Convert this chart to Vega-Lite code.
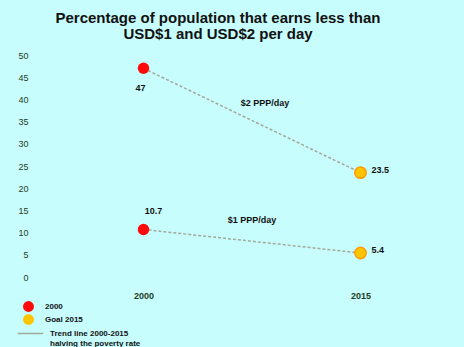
{
  "$schema": "https://vega.github.io/schema/vega-lite/v6.json",
  "autosize": "none",
  "width": 434,
  "height": 222,
  "padding": {"left": 35, "top": 55, "right": 0, "bottom": 70},
  "background": "#c8fdfd",
  "config": {
    "view": {"stroke": null},
    "font": "Liberation Sans"
  },
  "title": {
    "text": ["Percentage of population that earns less than", "USD$1 and USD$2 per day"],
    "fontSize": 15,
    "fontWeight": "bold",
    "color": "#111111",
    "anchor": "middle",
    "dx": -34,
    "offset": 9,
    "lineHeight": 16
  },
  "datasets": {
    "poverty": [
      {"line": "$2 PPP/day", "year": 2000, "value": 47, "status": "2000"},
      {"line": "$2 PPP/day", "year": 2015, "value": 23.5, "status": "Goal 2015"},
      {"line": "$1 PPP/day", "year": 2000, "value": 10.7, "status": "2000"},
      {"line": "$1 PPP/day", "year": 2015, "value": 5.4, "status": "Goal 2015"}
    ],
    "lineNames": [
      {"line": "$2 PPP/day", "year": 2008.4, "value": 39.2},
      {"line": "$1 PPP/day", "year": 2007.5, "value": 12.8}
    ]
  },
  "encoding": {
    "x": {
      "field": "year", "type": "quantitative",
      "scale": {"domain": [1992.5, 2022.5], "zero": false, "nice": false},
      "axis": {
        "values": [2000, 2015], "format": "d", "title": null,
        "domain": false, "ticks": false, "grid": false,
        "labelPadding": 14, "labelFontSize": 9, "labelFontWeight": "bold", "labelColor": "#1d3d1d"
      }
    },
    "y": {
      "field": "value", "type": "quantitative",
      "scale": {"domain": [0, 50], "nice": false},
      "axis": {
        "values": [0, 5, 10, 15, 20, 25, 30, 35, 40, 45, 50],
        "title": null, "domain": false, "ticks": false, "grid": false,
        "labelPadding": 7, "labelFontSize": 9, "labelColor": "#1d3d1d"
      }
    }
  },
  "layer": [
    {
      "data": {"name": "poverty"},
      "mark": {"type": "line", "strokeWidth": 1.5, "strokeDash": [3, 2]},
      "encoding": {
        "detail": {"field": "line"},
        "stroke": {
          "field": "kind", "type": "nominal",
          "scale": {"range": ["#a3aa9a"]},
          "legend": {
            "orient": "none", "legendX": -18, "legendY": 265,
            "title": null, "symbolType": "stroke", "symbolSize": 650, "symbolStrokeWidth": 1.5,
            "labelOffset": 6,
            "labelFontSize": 8, "labelFontWeight": "bold", "labelColor": "#111111",
            "labelExpr": "['Trend line 2000-2015', 'halving the poverty rate']"
          }
        }
      },
      "transform": [{"calculate": "'Trend line'", "as": "kind"}]
    },
    {
      "data": {"name": "poverty"},
      "mark": {"type": "point", "filled": true, "size": 130, "strokeWidth": 1.5, "opacity": 1},
      "encoding": {
        "fill": {
          "field": "status", "type": "nominal",
          "scale": {"domain": ["2000", "Goal 2015"], "range": ["#ff0a0a", "#ffc400"]},
          "legend": {
            "orient": "none", "legendX": -12, "legendY": 246,
            "title": null, "symbolSize": 120, "symbolStrokeWidth": 0,
            "labelOffset": 11,
            "labelFontSize": 8, "labelFontWeight": "bold", "labelColor": "#111111",
            "rowPadding": 2
          }
        },
        "stroke": {"value": "#ff9a00"},
        "strokeOpacity": {"condition": {"test": "datum.status === '2000'", "value": 0}, "value": 1}
      }
    },
    {
      "data": {"name": "poverty"},
      "transform": [{"filter": "datum.year === 2000 && datum.value > 20"}],
      "mark": {"type": "text", "fontSize": 9, "fontWeight": "bold", "color": "#111111", "dy": 20, "dx": -3},
      "encoding": {"text": {"field": "value", "type": "quantitative"}}
    },
    {
      "data": {"name": "poverty"},
      "transform": [{"filter": "datum.year === 2000 && datum.value < 20"}],
      "mark": {"type": "text", "fontSize": 9, "fontWeight": "bold", "color": "#111111", "dy": -18, "dx": 10},
      "encoding": {"text": {"field": "value", "type": "quantitative", "format": ".1f"}}
    },
    {
      "data": {"name": "poverty"},
      "transform": [{"filter": "datum.year === 2015"}],
      "mark": {"type": "text", "fontSize": 9, "fontWeight": "bold", "color": "#111111", "align": "left", "dx": 11, "dy": -3},
      "encoding": {"text": {"field": "value", "type": "quantitative", "format": ".1f"}}
    },
    {
      "data": {"name": "lineNames"},
      "mark": {"type": "text", "fontSize": 9, "fontWeight": "bold", "color": "#111111"},
      "encoding": {"text": {"field": "line"}}
    }
  ],
  "resolve": {"scale": {"stroke": "independent"}}
}
